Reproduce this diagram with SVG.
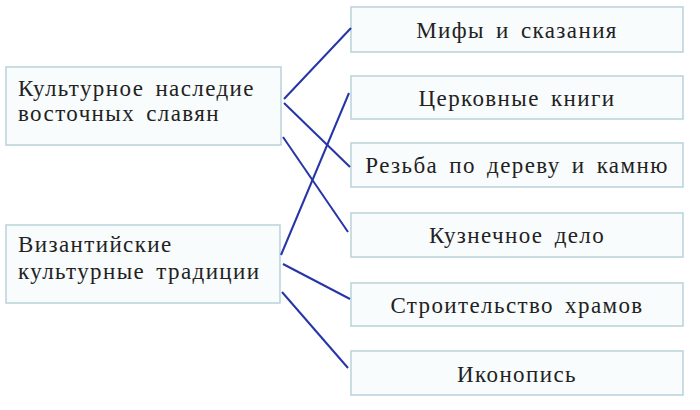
<svg xmlns="http://www.w3.org/2000/svg" width="700" height="410" viewBox="0 0 700 410">
<style>
.box{fill:#f9fcfd;stroke:#b9d2da;stroke-width:1.5}
.t{font-family:"Liberation Serif","DejaVu Serif",serif;font-size:23px;fill:#222;letter-spacing:1.4px;word-spacing:4px}
.c{text-anchor:middle}
.ln{stroke:#2535a8;stroke-width:2;fill:none}
</style>
<rect width="700" height="410" fill="#ffffff"/>
<g id="left1"><rect class="box" x="6" y="67" width="275" height="78"/><text class="t" x="18" y="96">Культурное наследие</text><text class="t" x="18" y="121">восточных славян</text></g>
<g id="left2"><rect class="box" x="6" y="225" width="274" height="78"/><text class="t" x="18" y="252">Византийские</text><text class="t" x="18" y="279">культурные традиции</text></g>
<g id="r1"><rect class="box" x="351" y="7" width="332" height="45"/><text class="t c" x="517" y="38">Мифы и сказания</text></g>
<g id="r2"><rect class="box" x="351" y="76" width="332" height="43"/><text class="t c" x="517" y="106">Церковные книги</text></g>
<g id="r3"><rect class="box" x="351" y="143" width="332" height="44"/><text class="t c" x="517" y="173">Резьба по дереву и камню</text></g>
<g id="r4"><rect class="box" x="351" y="213" width="332" height="44"/><text class="t c" x="517" y="243">Кузнечное дело</text></g>
<g id="r5"><rect class="box" x="351" y="283" width="332" height="43"/><text class="t c" x="517" y="313">Строительство храмов</text></g>
<g id="r6"><rect class="box" x="351" y="351" width="332" height="44"/><text class="t c" x="517" y="382">Иконопись</text></g>
<g id="connectors">
<line class="ln" x1="284" y1="99" x2="351" y2="28"/>
<line class="ln" x1="284" y1="103" x2="350" y2="167"/>
<line class="ln" x1="283" y1="137" x2="348" y2="232"/>
<line class="ln" x1="281" y1="255" x2="349" y2="93"/>
<line class="ln" x1="283" y1="264" x2="350" y2="299"/>
<line class="ln" x1="282" y1="292" x2="348" y2="368"/>
</g>
</svg>
